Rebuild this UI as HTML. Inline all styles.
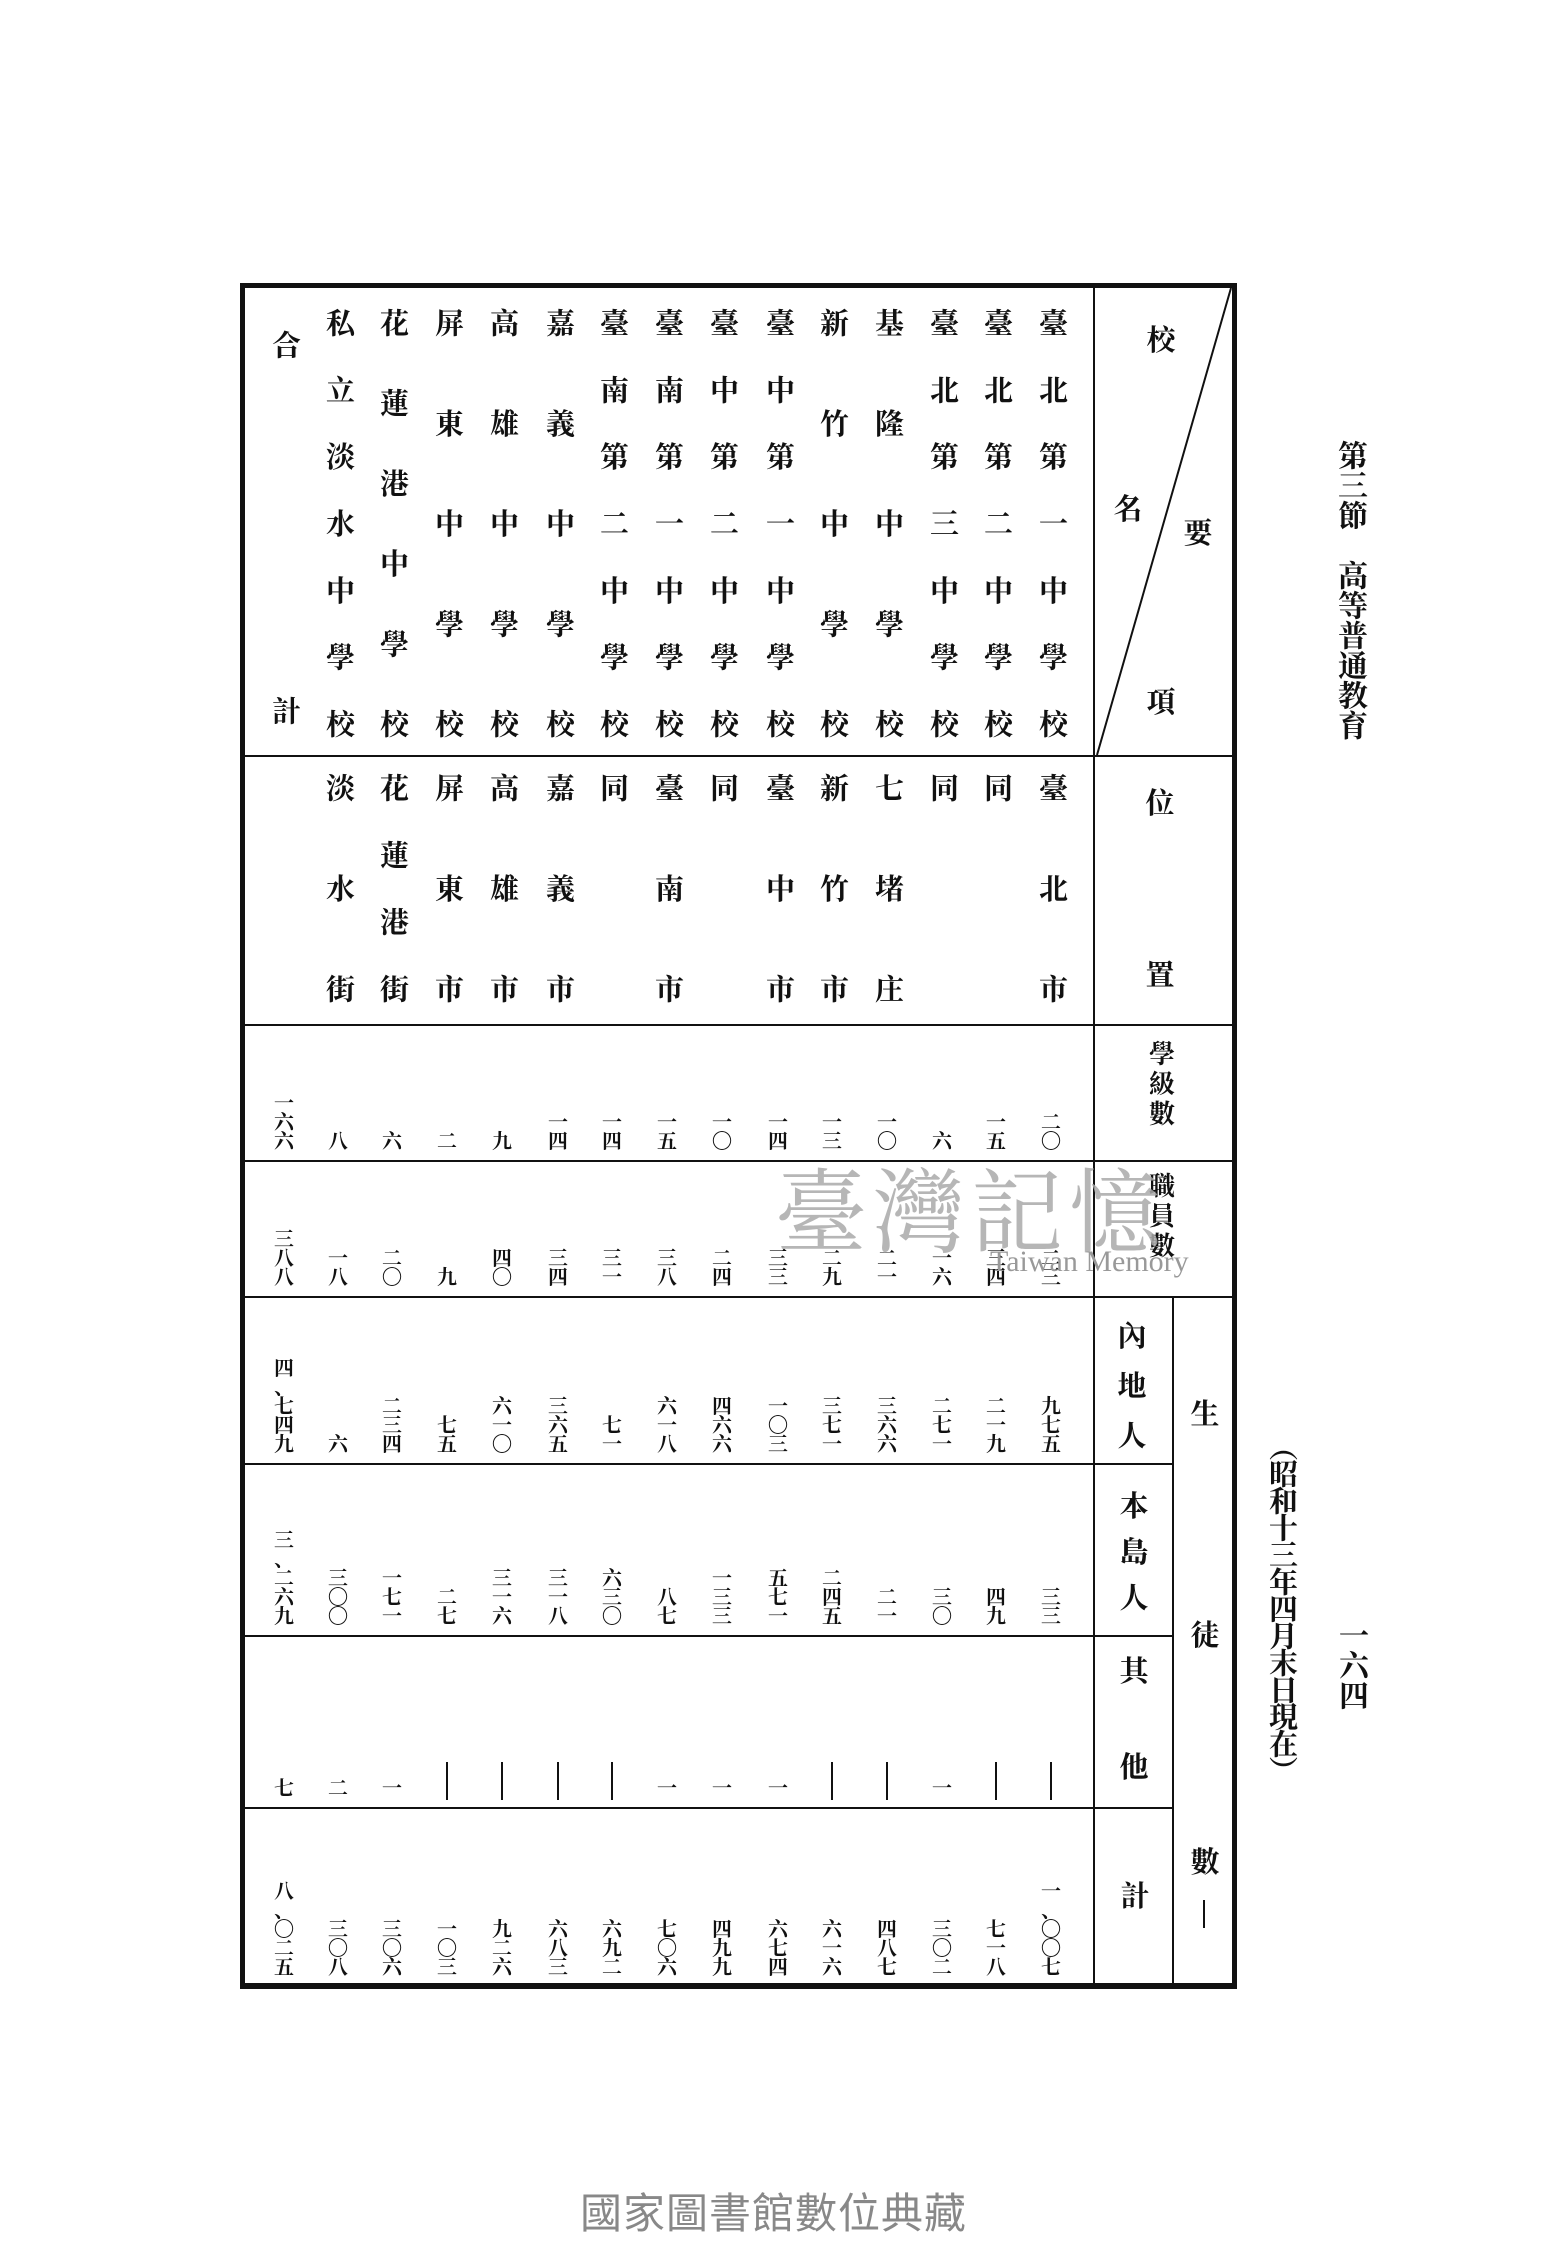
<!DOCTYPE html>
<html><head><meta charset="utf-8"><style>
body{margin:0;background:#fff}
#p{position:relative;width:1550px;height:2250px;background:#fff;overflow:hidden;font-family:"Liberation Serif","Noto Serif CJK SC","Noto Sans CJK TC",serif;color:#111;font-weight:bold}
.l{position:absolute;background:#111}
.v{position:absolute;writing-mode:vertical-rl;text-orientation:upright;font-size:29px;line-height:34px;width:34px;text-align:justify;text-align-last:justify}
.s{text-align:start;text-align-last:start}
.n{position:absolute;width:32px;text-align:center;font-size:20px;line-height:19px;letter-spacing:0}
.h{position:absolute;font-size:29px;line-height:32px;width:34px;text-align:center}
.bar{position:absolute;width:2px;height:38px;background:#111;top:1762px}
</style></head><body><div id="p">
<div class="l" style="left:240px;top:283px;width:5px;height:1706px"></div>
<div class="l" style="left:1232px;top:283px;width:5px;height:1706px"></div>
<div class="l" style="left:240px;top:283px;width:997px;height:5px"></div>
<div class="l" style="left:240px;top:1983px;width:997px;height:6px"></div>
<div class="l" style="left:1093px;top:288px;width:2px;height:1695px"></div>
<div class="l" style="left:1172px;top:1296px;width:2px;height:687px"></div>
<div class="l" style="left:244px;top:755px;width:988px;height:2px"></div>
<div class="l" style="left:244px;top:1024px;width:988px;height:2px"></div>
<div class="l" style="left:244px;top:1160px;width:988px;height:2px"></div>
<div class="l" style="left:244px;top:1296px;width:988px;height:2px"></div>
<div class="l" style="left:244px;top:1463px;width:928px;height:2px"></div>
<div class="l" style="left:244px;top:1635px;width:928px;height:2px"></div>
<div class="l" style="left:244px;top:1807px;width:928px;height:2px"></div>
<svg style="position:absolute;left:0;top:0" width="1550" height="2250"><line x1="1231" y1="288" x2="1097" y2="755" stroke="#111" stroke-width="2"/></svg>
<div class="h" style="left:1144px;top:325px">校</div>
<div class="h" style="left:1111px;top:494px">名</div>
<div class="h" style="left:1181px;top:518px">要</div>
<div class="h" style="left:1144px;top:687px">項</div>
<div class="h" style="left:1143px;top:788px">位</div>
<div class="h" style="left:1143px;top:960px">置</div>
<div class="h" style="left:1145px;top:1040px;font-size:26px;line-height:30px">學<br>級<br>數</div>
<div class="h" style="left:1145px;top:1172px;font-size:26px;line-height:30px">職<br>員<br>數</div>
<div class="h" style="left:1115px;top:1312px;line-height:50px">內<br>地<br>人</div>
<div class="h" style="left:1117px;top:1484px;line-height:46px">本<br>島<br>人</div>
<div class="h" style="left:1117px;top:1656px">其</div>
<div class="h" style="left:1117px;top:1752px">他</div>
<div class="h" style="left:1118px;top:1881px">計</div>
<div class="h" style="left:1188px;top:1399px">生</div>
<div class="h" style="left:1188px;top:1620px">徒</div>
<div class="h" style="left:1188px;top:1847px">數</div>
<div class="l" style="left:1203px;top:1900px;width:2px;height:28px"></div>
<div class="v" style="left:1034px;top:308px;height:430px">臺北第一中學校</div>
<div class="v" style="left:979px;top:308px;height:430px">臺北第二中學校</div>
<div class="v" style="left:925px;top:308px;height:430px">臺北第三中學校</div>
<div class="v" style="left:870px;top:308px;height:430px">基隆中學校</div>
<div class="v" style="left:815px;top:308px;height:430px">新竹中學校</div>
<div class="v" style="left:761px;top:308px;height:430px">臺中第一中學校</div>
<div class="v" style="left:705px;top:308px;height:430px">臺中第二中學校</div>
<div class="v" style="left:650px;top:308px;height:430px">臺南第一中學校</div>
<div class="v" style="left:595px;top:308px;height:430px">臺南第二中學校</div>
<div class="v" style="left:541px;top:308px;height:430px">嘉義中學校</div>
<div class="v" style="left:485px;top:308px;height:430px">高雄中學校</div>
<div class="v" style="left:430px;top:308px;height:430px">屏東中學校</div>
<div class="v" style="left:375px;top:308px;height:430px">花蓮港中學校</div>
<div class="v" style="left:321px;top:308px;height:430px">私立淡水中學校</div>
<div class="v" style="left:267px;top:330px;height:395px">合計</div>
<div class="v" style="left:1034px;top:773px;height:230px">臺北市</div>
<div class="v s" style="left:979px;top:773px;height:230px">同</div>
<div class="v s" style="left:925px;top:773px;height:230px">同</div>
<div class="v" style="left:870px;top:773px;height:230px">七堵庄</div>
<div class="v" style="left:815px;top:773px;height:230px">新竹市</div>
<div class="v" style="left:761px;top:773px;height:230px">臺中市</div>
<div class="v s" style="left:705px;top:773px;height:230px">同</div>
<div class="v" style="left:650px;top:773px;height:230px">臺南市</div>
<div class="v s" style="left:595px;top:773px;height:230px">同</div>
<div class="v" style="left:541px;top:773px;height:230px">嘉義市</div>
<div class="v" style="left:485px;top:773px;height:230px">高雄市</div>
<div class="v" style="left:430px;top:773px;height:230px">屏東市</div>
<div class="v" style="left:375px;top:773px;height:230px">花蓮港街</div>
<div class="v" style="left:321px;top:773px;height:230px">淡水街</div>
<div class="n" style="left:1035px;bottom:1098px">二<br>〇</div>
<div class="n" style="left:980px;bottom:1098px">一<br>五</div>
<div class="n" style="left:926px;bottom:1098px">六</div>
<div class="n" style="left:871px;bottom:1098px">一<br>〇</div>
<div class="n" style="left:816px;bottom:1098px">一<br>三</div>
<div class="n" style="left:762px;bottom:1098px">一<br>四</div>
<div class="n" style="left:706px;bottom:1098px">一<br>〇</div>
<div class="n" style="left:651px;bottom:1098px">一<br>五</div>
<div class="n" style="left:596px;bottom:1098px">一<br>四</div>
<div class="n" style="left:542px;bottom:1098px">一<br>四</div>
<div class="n" style="left:486px;bottom:1098px">九</div>
<div class="n" style="left:431px;bottom:1098px">二</div>
<div class="n" style="left:376px;bottom:1098px">六</div>
<div class="n" style="left:322px;bottom:1098px">八</div>
<div class="n" style="left:268px;bottom:1098px">一<br>六<br>六</div>
<div class="n" style="left:1035px;bottom:962px">二<br>三</div>
<div class="n" style="left:980px;bottom:962px">三<br>四</div>
<div class="n" style="left:926px;bottom:962px">一<br>六</div>
<div class="n" style="left:871px;bottom:962px">二<br>一</div>
<div class="n" style="left:816px;bottom:962px">二<br>九</div>
<div class="n" style="left:762px;bottom:962px">三<br>三</div>
<div class="n" style="left:706px;bottom:962px">二<br>四</div>
<div class="n" style="left:651px;bottom:962px">三<br>八</div>
<div class="n" style="left:596px;bottom:962px">三<br>一</div>
<div class="n" style="left:542px;bottom:962px">三<br>四</div>
<div class="n" style="left:486px;bottom:962px">四<br>〇</div>
<div class="n" style="left:431px;bottom:962px">九</div>
<div class="n" style="left:376px;bottom:962px">二<br>〇</div>
<div class="n" style="left:322px;bottom:962px">一<br>八</div>
<div class="n" style="left:268px;bottom:962px">三<br>八<br>八</div>
<div class="n" style="left:1035px;bottom:795px">九<br>七<br>五</div>
<div class="n" style="left:980px;bottom:795px">二<br>一<br>九</div>
<div class="n" style="left:926px;bottom:795px">二<br>七<br>一</div>
<div class="n" style="left:871px;bottom:795px">三<br>六<br>六</div>
<div class="n" style="left:816px;bottom:795px">三<br>七<br>一</div>
<div class="n" style="left:762px;bottom:795px">一<br>〇<br>三</div>
<div class="n" style="left:706px;bottom:795px">四<br>六<br>六</div>
<div class="n" style="left:651px;bottom:795px">六<br>一<br>八</div>
<div class="n" style="left:596px;bottom:795px">七<br>一</div>
<div class="n" style="left:542px;bottom:795px">三<br>六<br>五</div>
<div class="n" style="left:486px;bottom:795px">六<br>一<br>〇</div>
<div class="n" style="left:431px;bottom:795px">七<br>五</div>
<div class="n" style="left:376px;bottom:795px">二<br>三<br>四</div>
<div class="n" style="left:322px;bottom:795px">六</div>
<div class="n" style="left:268px;bottom:795px">四<br>、<br>七<br>四<br>九</div>
<div class="n" style="left:1035px;bottom:623px">三<br>三</div>
<div class="n" style="left:980px;bottom:623px">四<br>九</div>
<div class="n" style="left:926px;bottom:623px">三<br>〇</div>
<div class="n" style="left:871px;bottom:623px">二<br>一</div>
<div class="n" style="left:816px;bottom:623px">二<br>四<br>五</div>
<div class="n" style="left:762px;bottom:623px">五<br>七<br>一</div>
<div class="n" style="left:706px;bottom:623px">一<br>三<br>三</div>
<div class="n" style="left:651px;bottom:623px">八<br>七</div>
<div class="n" style="left:596px;bottom:623px">六<br>三<br>〇</div>
<div class="n" style="left:542px;bottom:623px">三<br>一<br>八</div>
<div class="n" style="left:486px;bottom:623px">三<br>一<br>六</div>
<div class="n" style="left:431px;bottom:623px">二<br>七</div>
<div class="n" style="left:376px;bottom:623px">一<br>七<br>一</div>
<div class="n" style="left:322px;bottom:623px">三<br>〇<br>〇</div>
<div class="n" style="left:268px;bottom:623px">三<br>、<br>二<br>六<br>九</div>
<div class="bar" style="left:1050px"></div>
<div class="bar" style="left:995px"></div>
<div class="n" style="left:926px;bottom:451px">一</div>
<div class="bar" style="left:886px"></div>
<div class="bar" style="left:831px"></div>
<div class="n" style="left:762px;bottom:451px">一</div>
<div class="n" style="left:706px;bottom:451px">一</div>
<div class="n" style="left:651px;bottom:451px">一</div>
<div class="bar" style="left:611px"></div>
<div class="bar" style="left:557px"></div>
<div class="bar" style="left:501px"></div>
<div class="bar" style="left:446px"></div>
<div class="n" style="left:376px;bottom:451px">一</div>
<div class="n" style="left:322px;bottom:451px">二</div>
<div class="n" style="left:268px;bottom:451px">七</div>
<div class="n" style="left:1035px;bottom:272px">一<br>、<br>〇<br>〇<br>七</div>
<div class="n" style="left:980px;bottom:272px">七<br>一<br>八</div>
<div class="n" style="left:926px;bottom:272px">三<br>〇<br>二</div>
<div class="n" style="left:871px;bottom:272px">四<br>八<br>七</div>
<div class="n" style="left:816px;bottom:272px">六<br>一<br>六</div>
<div class="n" style="left:762px;bottom:272px">六<br>七<br>四</div>
<div class="n" style="left:706px;bottom:272px">四<br>九<br>九</div>
<div class="n" style="left:651px;bottom:272px">七<br>〇<br>六</div>
<div class="n" style="left:596px;bottom:272px">六<br>九<br>二</div>
<div class="n" style="left:542px;bottom:272px">六<br>八<br>三</div>
<div class="n" style="left:486px;bottom:272px">九<br>二<br>六</div>
<div class="n" style="left:431px;bottom:272px">一<br>〇<br>三</div>
<div class="n" style="left:376px;bottom:272px">三<br>〇<br>六</div>
<div class="n" style="left:322px;bottom:272px">三<br>〇<br>八</div>
<div class="n" style="left:268px;bottom:272px">八<br>、<br>〇<br>二<br>五</div>
<div style="position:absolute;left:775px;top:1140px;font-size:92px;color:#aaa;font-weight:normal;font-family:'Noto Serif CJK SC',serif;letter-spacing:6px;opacity:.85">臺灣記憶</div>
<div style="position:absolute;left:990px;top:1245px;font-size:30px;color:#999;font-weight:normal;font-family:'Liberation Serif',serif">Taiwan Memory</div>
<div class="v s" style="left:1333px;top:440px;height:360px;font-size:30px;line-height:32px;width:32px">第三節　高等普通教育</div>
<div class="v s" style="left:1334px;top:1620px;height:100px;font-size:30px;line-height:32px;width:32px">一六四</div>
<div class="v s" style="left:1265px;top:1432px;height:420px;font-size:29px;line-height:32px;width:32px;letter-spacing:-2px">（昭和十三年四月末日現在）</div>
<div style="position:absolute;left:580px;top:2180px;font-size:42px;color:#888;font-weight:normal;font-family:'Liberation Sans','Noto Sans CJK TC',sans-serif;letter-spacing:1px">國家圖書館數位典藏</div>
</div></body></html>
